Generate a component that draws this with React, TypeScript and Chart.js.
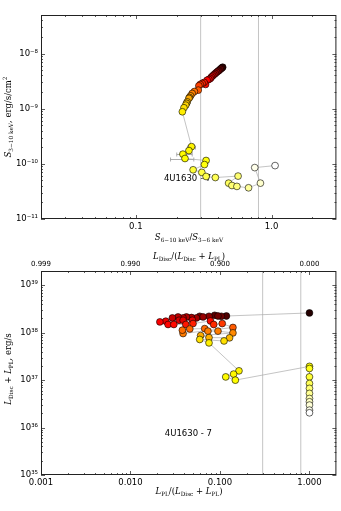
import React, { useEffect, useRef } from "react";
import { Chart, registerables } from "chart.js";
Chart.register(...registerables);

// ---------- Top panel: hardness ratio vs 3-10 keV flux ----------
const topHardness = [
  0.436, 0.43, 0.425, 0.419, 0.41, 0.403, 0.394, 0.385, 0.376, 0.368, 0.36, 0.354, 0.345, 0.335, 0.326,
  0.318, 0.308, 0.298, 0.291, 0.288, 0.27, 0.26, 0.253, 0.248, 0.246, 0.239, 0.236, 0.233, 0.226, 0.22,
  0.257, 0.246, 0.222, 0.23, 0.329, 0.32, 0.264, 0.306, 0.329, 0.385, 0.566, 0.482, 0.51, 0.555, 0.676,
  0.827, 0.751, 1.06,
];
const topFlux = [
  5.65e-9, 5.5e-9, 5.35e-9, 5.2e-9, 4.95e-9, 4.79e-9, 4.6e-9, 4.35e-9, 4.15e-9, 3.94e-9, 3.75e-9, 3.53e-9,
  3.4e-9, 3.29e-9, 2.75e-9, 3.0e-9, 2.87e-9, 2.75e-9, 2.6e-9, 2.17e-9, 2.05e-9, 1.89e-9, 1.71e-9, 1.6e-9,
  1.54e-9, 1.33e-9, 1.25e-9, 1.16e-9, 1.04e-9, 8.8e-10,
  2.05e-10, 1.74e-10, 1.5e-10, 1.25e-10, 1.15e-10, 9.7e-11, 7.8e-11, 7.0e-11, 5.9e-11, 5.65e-11, 6.0e-11,
  4.47e-11, 4.05e-11, 3.9e-11, 3.68e-11, 4.47e-11, 8.55e-11, 9.3e-11,
];
const topColorT = [
  0.08, 0.1, 0.12, 0.14, 0.16, 0.18, 0.2, 0.22, 0.25, 0.28, 0.3, 0.32, 0.34, 0.36, 0.38, 0.4, 0.42, 0.44,
  0.46, 0.5, 0.53, 0.56, 0.59, 0.61, 0.62, 0.64, 0.66, 0.68, 0.7, 0.72,
  0.73, 0.735, 0.74, 0.745, 0.755, 0.76, 0.8, 0.81, 0.82, 0.83, 0.86, 0.84, 0.86, 0.87, 0.9, 0.95, 0.98, 1.0,
];
const topErrIndex = [30, 32, 33];
const topErrLo = [0.24, 0.2, 0.18];
const topErrHi = [0.275, 0.26, 0.267];
const topXTicks = [0.1, 1.0];
const topYTicks = [1e-11, 1e-10, 1e-9, 1e-8];
const topXRange = [0.02, 3];
const topYRange = [1e-11, 5e-8];
const topLabelPos = [0.161, 5.4e-11];

// ---------- Bottom panel: PL fraction vs total luminosity ----------
const botPLFrac = [
  1.0,
  0.118, 0.0873, 0.1037, 0.095, 0.0594, 0.0754, 0.0647, 0.0546, 0.048, 0.0422, 0.0387, 0.034, 0.0294,
  0.0349, 0.0387, 0.0492, 0.0248, 0.0213, 0.0263, 0.0305, 0.0415, 0.05, 0.0782, 0.0851, 0.106,
  0.1396, 0.0387, 0.038, 0.046, 0.0675, 0.0734, 0.095, 0.1396, 0.0608, 0.0754, 0.128, 0.111, 0.0594, 0.0754,
  0.163, 0.142, 0.116, 0.1485,
  1, 1, 1, 1, 1, 1, 1, 1, 1, 1, 1,
];
const botLum = [
  2.61e38,
  2.25e38, 2.33e38, 2.22e38, 2.25e38, 2.22e38, 2.22e38, 2.15e38, 2.05e38, 2.09e38, 2.15e38, 2.05e38, 2.15e38, 2.05e38,
  1.83e38, 1.83e38, 1.83e38, 1.75e38, 1.69e38, 1.49e38, 1.49e38, 1.49e38, 1.56e38, 1.77e38, 1.49e38, 1.56e38,
  1.29e38, 9.6e37, 1.13e38, 1.2e38, 1.22e38, 1.08e38, 1.08e38, 9.9e37, 8.7e37, 7.9e37, 7.8e37, 6.7e37, 7.2e37, 6.1e37,
  1.57e37, 1.34e37, 1.17e37, 1.0e37,
  1.95e37, 1.76e37, 1.17e37, 8.5e36, 6.7e36, 5.25e36, 4.1e36, 3.5e36, 2.98e36, 2.33e36, 2.05e36,
];
const botColorT = [
  0.04,
  0.1, 0.12, 0.14, 0.15, 0.17, 0.19, 0.21, 0.23, 0.24, 0.25, 0.26, 0.27, 0.28,
  0.31, 0.32, 0.33, 0.34, 0.36, 0.37, 0.38, 0.4, 0.41, 0.38, 0.43, 0.45,
  0.5, 0.55, 0.53, 0.52, 0.52, 0.55, 0.55, 0.57, 0.62, 0.63, 0.64, 0.7, 0.7, 0.72,
  0.73, 0.735, 0.74, 0.745,
  0.75, 0.77, 0.8, 0.83, 0.86, 0.89, 0.92, 0.94, 0.96, 0.98, 1.0,
];
const botXTicks = [0.001, 0.01, 0.1, 1];
const botYTicks = [1e35, 1e36, 1e37, 1e38, 1e39];
const botXRange = [0.001, 2];
const botYRange = [1e35, 2e39];
const botLabelPos = [0.0242, 7.3e35];

const vLines = [0.3, 0.8];
const sourceLabel = "4U1630 - 7";

// ---------- helpers ----------
const clamp = (v: number) => Math.max(0, Math.min(1, v));
function hot(t: number) {
  const r = clamp(0.0416 + (t / 0.365079) * (1 - 0.0416));
  const g = clamp((t - 0.365079) / (0.746032 - 0.365079));
  const b = clamp((t - 0.746032) / (1 - 0.746032));
  return `rgb(${Math.round(r * 255)},${Math.round(g * 255)},${Math.round(b * 255)})`;
}
const SUP: Record<string, string> = {
  "-": "\u207B", "0": "\u2070", "1": "\u00B9", "2": "\u00B2", "3": "\u00B3", "4": "\u2074",
  "5": "\u2075", "6": "\u2076", "7": "\u2077", "8": "\u2078", "9": "\u2079",
};
const pow10 = (v: number) =>
  "10" + String(Math.round(Math.log10(v))).split("").map((c) => SUP[c] || c).join("");

function logMinors(min: number, max: number) {
  const out: number[] = [];
  for (let e = Math.floor(Math.log10(min)); e <= Math.ceil(Math.log10(max)); e++) {
    for (let m = 2; m <= 9; m++) {
      const v = m * Math.pow(10, e);
      if (v > min * 1.0001 && v < max * 0.9999) out.push(v);
    }
  }
  return out;
}

type Seg = { t: string; s?: "sub" | "sup"; i?: boolean };
type Title = { segs: Seg[]; x: number; y: number; rot: number; size: number };

function drawRich(ctx: CanvasRenderingContext2D, tt: Title) {
  const fam = '"DejaVu Serif", serif';
  const fontFor = (sg: Seg) =>
    `${sg.i ? "italic " : ""}${sg.s ? (tt.size * 0.68).toFixed(2) : tt.size}px ${fam}`;
  ctx.save();
  ctx.translate(tt.x, tt.y);
  if (tt.rot) ctx.rotate(tt.rot);
  let total = 0;
  const ws: number[] = [];
  for (const sg of tt.segs) {
    ctx.font = fontFor(sg);
    const w = ctx.measureText(sg.t).width;
    ws.push(w);
    total += w;
  }
  let x = -total / 2;
  ctx.textAlign = "left";
  ctx.textBaseline = "alphabetic";
  ctx.fillStyle = "#000";
  tt.segs.forEach((sg, k) => {
    ctx.font = fontFor(sg);
    const dy = sg.s === "sub" ? tt.size * 0.28 : sg.s === "sup" ? -tt.size * 0.42 : 0;
    ctx.fillText(sg.t, x, tt.size * 0.36 + dy);
    x += ws[k];
  });
  ctx.restore();
}

function makeDecor(spec: {
  xr: number[]; yr: number[]; xMajor: number[]; yMajor: number[];
  titles: Title[]; labelPos: number[];
  err?: { idx: number[]; lo: number[]; hi: number[]; ys: number[] };
}) {
  return {
    id: "decor",
    beforeDatasetsDraw(chart: any) {
      const ctx: CanvasRenderingContext2D = chart.ctx;
      const xs = chart.scales.x, ys = chart.scales.y;
      ctx.save();
      ctx.font = '8.5px "DejaVu Sans", sans-serif';
      ctx.fillStyle = "#000";
      ctx.textAlign = "left";
      ctx.textBaseline = "middle";
      ctx.fillText(sourceLabel, xs.getPixelForValue(spec.labelPos[0]), ys.getPixelForValue(spec.labelPos[1]));
      if (spec.err) {
        ctx.strokeStyle = "#999";
        ctx.lineWidth = 0.8;
        spec.err.idx.forEach((id, k) => {
          const py = Math.round(ys.getPixelForValue(spec.err!.ys[id])) + 0.5;
          const a = xs.getPixelForValue(spec.err!.lo[k]);
          const b = xs.getPixelForValue(spec.err!.hi[k]);
          ctx.beginPath();
          ctx.moveTo(a, py); ctx.lineTo(b, py);
          ctx.moveTo(a, py - 2); ctx.lineTo(a, py + 2);
          ctx.moveTo(b, py - 2); ctx.lineTo(b, py + 2);
          ctx.stroke();
        });
      }
      ctx.restore();
    },
    afterDatasetsDraw(chart: any) {
      const ctx: CanvasRenderingContext2D = chart.ctx;
      const { left, right, top, bottom } = chart.chartArea;
      const xs = chart.scales.x, ys = chart.scales.y;
      ctx.save();
      ctx.strokeStyle = "#333";
      ctx.lineWidth = 0.8;
      const tick = (vals: number[], len: number) => {
        for (const v of vals) {
          const px = Math.round(xs.getPixelForValue(v)) + 0.5;
          ctx.beginPath();
          ctx.moveTo(px, bottom); ctx.lineTo(px, bottom - len);
          ctx.moveTo(px, top); ctx.lineTo(px, top + len);
          ctx.stroke();
        }
      };
      const ytick = (vals: number[], len: number) => {
        for (const v of vals) {
          const py = Math.round(ys.getPixelForValue(v)) + 0.5;
          ctx.beginPath();
          ctx.moveTo(left, py); ctx.lineTo(left + len, py);
          ctx.moveTo(right, py); ctx.lineTo(right - len, py);
          ctx.stroke();
        }
      };
      tick(spec.xMajor, 4);
      tick(logMinors(spec.xr[0], spec.xr[1]), 2);
      ytick(spec.yMajor, 4);
      ytick(logMinors(spec.yr[0], spec.yr[1]), 2);
      ctx.strokeStyle = "#222";
      ctx.lineWidth = 1;
      ctx.strokeRect(left + 0.5, top + 0.5, right - left - 1, bottom - top - 1);
      ctx.restore();
    },
    afterDraw(chart: any) {
      for (const t of spec.titles) drawRich(chart.ctx, t);
    },
  };
}

function logAxis(range: number[], majors: number[], fmt: (v: number) => string, extra: any) {
  return {
    type: "logarithmic",
    min: range[0],
    max: range[1],
    grid: { display: false, drawTicks: false },
    border: { display: false },
    ticks: {
      callback: (v: number) => fmt(v),
      font: { size: 8.5, family: '"DejaVu Sans", sans-serif' },
      color: "#000",
      padding: 3,
      autoSkip: false,
      maxRotation: 0,
      minRotation: 0,
    },
    afterBuildTicks: (s: any) => {
      s.ticks = majors.map((value) => ({ value }));
    },
    ...extra,
  };
}

function vLineSets(yr: number[]) {
  return vLines.map((v) => ({
    type: "line",
    data: [{ x: v, y: yr[0] }, { x: v, y: yr[1] }],
    borderColor: "#c4c4c4",
    borderWidth: 1,
    pointRadius: 0,
    order: 3,
  }));
}

function pointSet(xs: number[], ys: number[], ts: number[]) {
  return {
    type: "scatter",
    data: xs.map((x, i) => ({ x, y: ys[i] })),
    showLine: true,
    tension: 0,
    borderColor: "#aaaaaa",
    borderWidth: 0.7,
    pointRadius: 3.4,
    pointBackgroundColor: ts.map(hot),
    pointBorderColor: "#000",
    pointBorderWidth: 0.6,
    order: 1,
  };
}

const baseOptions = {
  responsive: false,
  animation: false,
  devicePixelRatio: 1,
  plugins: { legend: { display: false }, tooltip: { enabled: false } },
  events: [],
};

function TopChart() {
  const ref = useRef<HTMLCanvasElement>(null);
  useEffect(() => {
    const decor = makeDecor({
      xr: topXRange, yr: topYRange, xMajor: topXTicks, yMajor: topYTicks, labelPos: topLabelPos,
      err: { idx: topErrIndex, lo: topErrLo, hi: topErrHi, ys: topFlux },
      titles: [
        {
          segs: [{ t: "S", i: true }, { t: "6\u221210 keV", s: "sub" }, { t: "/" }, { t: "S", i: true }, { t: "3\u22126 keV", s: "sub" }],
          x: 189, y: 237, rot: 0, size: 8.5,
        },
        {
          segs: [{ t: "S", i: true }, { t: "3\u221210 keV", s: "sub" }, { t: ", erg/s/cm" }, { t: "2", s: "sup" }],
          x: 8, y: 117, rot: -Math.PI / 2, size: 8.5,
        },
      ],
    });
    const chart = new Chart(ref.current as HTMLCanvasElement, {
      type: "scatter",
      data: { datasets: [...vLineSets(topYRange), pointSet(topHardness, topFlux, topColorT)] as any },
      options: {
        ...baseOptions,
        layout: { padding: { top: 15, right: 4, left: 0, bottom: 0 } },
        scales: {
          x: logAxis(topXRange, topXTicks, (v) => v.toFixed(1), {
            position: "bottom",
            afterFit: (s: any) => { s.height = 31; },
          }),
          y: logAxis(topYRange, topYTicks, pow10, {
            position: "left",
            afterFit: (s: any) => { s.width = 41; },
          }),
        },
      } as any,
      plugins: [decor],
    });
    return () => chart.destroy();
  }, []);
  return <canvas ref={ref} width={341} height={250} style={{ display: "block", width: 341, height: 250 }} />;
}

function BottomChart() {
  const ref = useRef<HTMLCanvasElement>(null);
  useEffect(() => {
    const decor = makeDecor({
      xr: botXRange, yr: botYRange, xMajor: botXTicks, yMajor: botYTicks, labelPos: botLabelPos,
      titles: [
        {
          segs: [{ t: "L", i: true }, { t: "Disc", s: "sub" }, { t: "/(" }, { t: "L", i: true }, { t: "Disc", s: "sub" },
            { t: " + " }, { t: "L", i: true }, { t: "PL", s: "sub" }, { t: ")" }],
          x: 189, y: 6, rot: 0, size: 8.5,
        },
        {
          segs: [{ t: "L", i: true }, { t: "PL", s: "sub" }, { t: "/(" }, { t: "L", i: true }, { t: "Disc", s: "sub" },
            { t: " + " }, { t: "L", i: true }, { t: "PL", s: "sub" }, { t: ")" }],
          x: 189, y: 241, rot: 0, size: 8.5,
        },
        {
          segs: [{ t: "L", i: true }, { t: "Disc", s: "sub" }, { t: " + " }, { t: "L", i: true }, { t: "PL", s: "sub" }, { t: ", erg/s" }],
          x: 8, y: 119, rot: -Math.PI / 2, size: 8.5,
        },
      ],
    });
    const chart = new Chart(ref.current as HTMLCanvasElement, {
      type: "scatter",
      data: { datasets: [...vLineSets(botYRange), pointSet(botPLFrac, botLum, botColorT)] as any },
      options: {
        ...baseOptions,
        layout: { padding: { top: 0, right: 4, left: 0, bottom: 0 } },
        scales: {
          x: logAxis(botXRange, botXTicks, (v) => v.toFixed(3), {
            position: "bottom",
            afterFit: (s: any) => { s.height = 36; },
          }),
          x2: {
            ...logAxis(botXRange, botXTicks, (v) => (1 - v).toFixed(3), {
              position: "top",
              axis: "x",
              afterFit: (s: any) => { s.height = 21; },
            }),
            ticks: {
              callback: (v: number) => (1 - v).toFixed(3),
              font: { size: 7, family: '"DejaVu Sans", sans-serif' },
              color: "#000",
              padding: 3,
              autoSkip: false,
              maxRotation: 0,
              minRotation: 0,
            },
          },
          y: logAxis(botYRange, botYTicks, pow10, {
            position: "left",
            afterFit: (s: any) => { s.width = 41; },
          }),
        },
      } as any,
      plugins: [decor],
    });
    return () => chart.destroy();
  }, []);
  return <canvas ref={ref} width={341} height={261} style={{ display: "block", width: 341, height: 261 }} />;
}

export default function App() {
  return (
    <div style={{ position: "fixed", left: 0, top: 0, width: 341, height: 511, background: "#fff" }}>
      <TopChart />
      <BottomChart />
    </div>
  );
}
